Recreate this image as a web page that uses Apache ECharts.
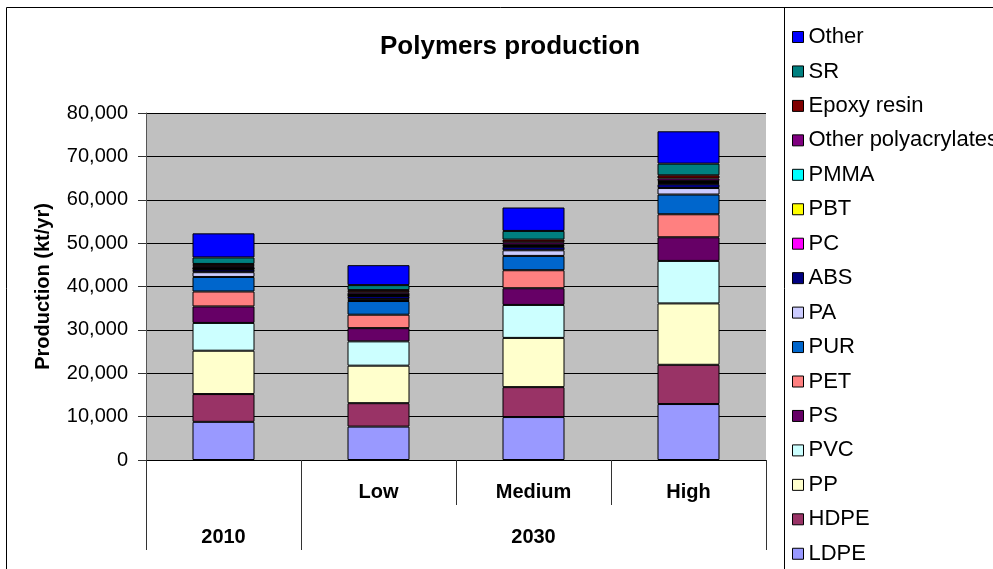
<!DOCTYPE html>
<html>
<head>
<meta charset="utf-8">
<title>Polymers production</title>
<script src="https://cdn.jsdelivr.net/npm/echarts@6/dist/echarts.min.js"></script>
<style>
  html, body { margin: 0; padding: 0; background: #fff; }
  #chart { width: 993px; height: 569px; }
</style>
</head>
<body>
<div id="chart"></div>
<script>
// scenario labels (first level) and year labels (second level)
const scenarios = ['', 'Low', 'Medium', 'High']
const years = ['2010', '', '2030', '']

// production in kt/yr, stacked from the bottom up
const LDPE = [8800, 7700, 9900, 12900]
const HDPE = [6400, 5400, 6900, 9050]
const PP = [10000, 8650, 11350, 14150]
const PVC = [6400, 5600, 7600, 9800]
const PS = [3800, 3050, 3850, 5450]
const PET = [3450, 3100, 4150, 5300]
const PUR = [3350, 3150, 3300, 4550]
const PA = [1100, 450, 1300, 1500]
const ABS = [600, 700, 800, 900]
const PC = [150, 150, 200, 300]
const PBT = [100, 120, 150, 200]
const PMMA = [100, 120, 150, 200]
const otherPolyacrylates = [450, 480, 550, 600]
const epoxyResin = [500, 500, 610, 730]
const SR = [1500, 1150, 2000, 2700]
const other = [5550, 4600, 5400, 7450]

const yTicks = [0, 10000, 20000, 30000, 40000, 50000, 60000, 70000, 80000]

const stackOrder = [
  ['LDPE', LDPE, '#9999FF'],
  ['HDPE', HDPE, '#993366'],
  ['PP', PP, '#FFFFCC'],
  ['PVC', PVC, '#CCFFFF'],
  ['PS', PS, '#660066'],
  ['PET', PET, '#FF8080'],
  ['PUR', PUR, '#0066CC'],
  ['PA', PA, '#CCCCFF'],
  ['ABS', ABS, '#000080'],
  ['PC', PC, '#FF00FF'],
  ['PBT', PBT, '#FFFF00'],
  ['PMMA', PMMA, '#00FFFF'],
  ['Other polyacrylates', otherPolyacrylates, '#800080'],
  ['Epoxy resin', epoxyResin, '#800000'],
  ['SR', SR, '#008080'],
  ['Other', other, '#0000FF'],
]

const font = "'Liberation Sans', Arial, sans-serif"

const chart = echarts.init(document.getElementById('chart'))

const option = {
  backgroundColor: '#fff',
  animation: false,
  title: {
    text: 'Polymers production',
    left: 505,
    textAlign: 'center',
    top: 29,
    textStyle: { fontFamily: font, fontSize: 26, fontWeight: 'bold', color: '#000' },
  },
  legend: {
    orient: 'vertical',
    left: 792,
    top: 26,
    padding: 0,
    itemGap: 12.45,
    itemWidth: 11,
    itemHeight: 11,
    icon: 'rect',
    data: stackOrder.map(s => s[0]).reverse(),
    textStyle: { fontFamily: font, fontSize: 22, color: '#000' },
    itemStyle: { borderColor: '#000', borderWidth: 1 },
  },
  grid: {
    left: 146,
    top: 113,
    width: 620,
    height: 347,
    show: true,
    backgroundColor: '#C0C0C0',
    borderWidth: 0,
  },
  xAxis: [
    {
      type: 'category',
      data: scenarios,
      position: 'bottom',
      axisLine: { lineStyle: { color: '#000', width: 1 } },
      axisTick: { show: true, interval: 0, length: 45, lineStyle: { color: '#333' } },
      axisLabel: {
        interval: 0,
        margin: 22,
        fontFamily: font,
        fontSize: 20,
        fontWeight: 'bold',
        color: '#000',
      },
    },
    {
      type: 'category',
      data: years,
      position: 'bottom',
      offset: 45,
      axisLine: { show: false },
      axisTick: {
        show: true,
        interval: (i) => i === 0 || i === 1,
        length: 45,
        lineStyle: { color: '#333' },
      },
      axisLabel: {
        interval: 0,
        margin: 22,
        fontFamily: font,
        fontSize: 20,
        fontWeight: 'bold',
        color: '#000',
      },
    },
  ],
  yAxis: {
    type: 'value',
    min: 0,
    max: 80000,
    interval: 10000,
    name: 'Production (kt/yr)',
    nameLocation: 'middle',
    nameGap: 93,
    nameTextStyle: { fontFamily: font, fontSize: 20, fontWeight: 'bold', color: '#000' },
    axisLine: { show: true, lineStyle: { color: '#555', width: 1 } },
    axisTick: { show: true, length: 8, lineStyle: { color: '#333' } },
    axisLabel: {
      margin: 18,
      fontFamily: font,
      fontSize: 20,
      color: '#000',
      formatter: (v) => (yTicks.includes(v) ? v.toLocaleString('en-US') : ''),
    },
    splitLine: { show: true, lineStyle: { color: '#000', width: 1 } },
  },
  series: stackOrder.map(([name, values, color]) => ({
    name,
    type: 'bar',
    stack: 'total',
    xAxisIndex: 0,
    barWidth: 62,
    data: values,
    itemStyle: { color, borderColor: '#000', borderWidth: 1 },
  })),
  graphic: [
    {
      type: 'rect',
      shape: { x: 6.5, y: 7.5, width: 1100, height: 700 },
      style: { fill: 'none', stroke: '#000', lineWidth: 1 },
      silent: true,
    },
    {
      type: 'line',
      shape: { x1: 784.5, y1: 7.5, x2: 784.5, y2: 569 },
      style: { stroke: '#000', lineWidth: 1 },
      silent: true,
    },
  ],
}

chart.setOption(option)
</script>
</body>
</html>
